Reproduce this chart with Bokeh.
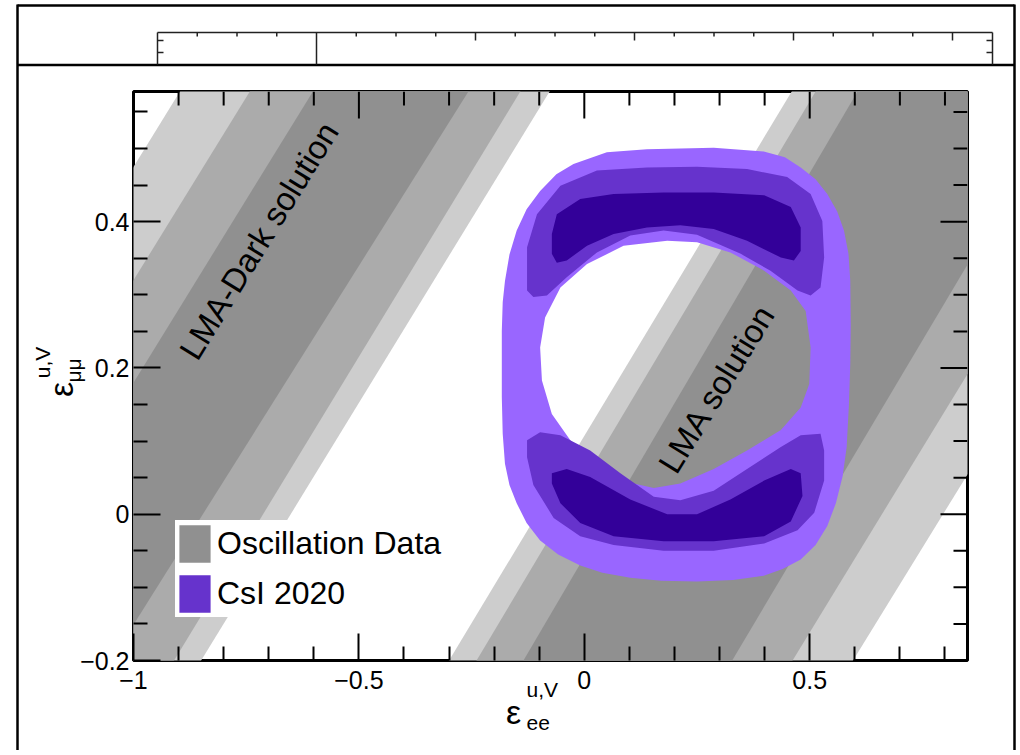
import math
from bokeh.plotting import figure
from bokeh.models import Range1d, FixedTicker, Legend, LegendItem
from bokeh.core.properties import value
from bokeh.embed import file_html
from bokeh.resources import INLINE

# ---------------- values ----------------
x_lim = [-1.0, 0.85]
y_lim = [-0.2, 0.578]
x_major = [-1.0, -0.5, 0.0, 0.5]
x_major_labels = ["\u22121", "\u22120.5", "0", "0.5"]
x_minor = [-0.9, -0.8, -0.7, -0.6, -0.4, -0.3, -0.2, -0.1, 0.1, 0.2, 0.3, 0.4, 0.6, 0.7, 0.8]
y_major = [-0.2, 0.0, 0.2, 0.4]
y_major_labels = ["\u22120.2", "0", "0.2", "0.4"]
y_minor = [-0.15, -0.1, -0.05, 0.05, 0.1, 0.15, 0.25, 0.3, 0.35, 0.45, 0.5, 0.55]

# Oscillation data bands: x of each band boundary at y = band_y[0] and y = band_y[1]
# boundary order: 3s-upper, 2s-upper, 1s-upper, 1s-lower, 2s-lower, 3s-lower
band_y = [-0.2, 0.58]
lma_dark_x_lo = [-1.675, -1.52, -1.38, -1.05, -0.91, -0.85]
lma_dark_x_hi = [-0.895, -0.74, -0.60, -0.255, -0.14, -0.075]
lma_x_lo = [-0.30, -0.239, -0.135, 0.328, 0.462, 0.596]
lma_x_hi = [0.462, 0.515, 0.608, 1.08, 1.235, 1.375]

# CsI 2020 allowed regions (contour outlines)
csi_outer_x = [0.139, 0.287, 0.398, 0.445, 0.480, 0.513, 0.539, 0.561, 0.576, 0.586, 0.590, 0.591,
               0.590, 0.587, 0.582, 0.573, 0.558, 0.539, 0.513, 0.480, 0.440, 0.398, 0.330, 0.250,
               0.170, 0.102, 0.040, -0.009, -0.058, -0.098, -0.128, -0.150, -0.166, -0.176, -0.181,
               -0.183, -0.183, -0.181, -0.176, -0.166, -0.150, -0.128, -0.098, -0.062, -0.024, 0.050]
csi_outer_y = [0.499, 0.501, 0.496, 0.488, 0.474, 0.458, 0.438, 0.414, 0.388, 0.356, 0.319, 0.260,
               0.206, 0.150, 0.092, 0.052, 0.015, -0.016, -0.042, -0.062, -0.075, -0.084, -0.090,
               -0.092, -0.091, -0.087, -0.080, -0.070, -0.055, -0.036, -0.012, 0.015, 0.040, 0.069,
               0.110, 0.160, 0.251, 0.290, 0.319, 0.355, 0.388, 0.417, 0.442, 0.465, 0.479, 0.495]
csi_hole_x = [0.184, 0.250, 0.324, 0.399, 0.458, 0.491, 0.502, 0.499, 0.480, 0.436, 0.361, 0.287,
              0.213, 0.154, 0.095, 0.028, -0.031, -0.072, -0.094, -0.098, -0.087, -0.053, 0.006, 0.087]
csi_hole_y = [0.374, 0.372, 0.358, 0.333, 0.306, 0.278, 0.228, 0.178, 0.146, 0.115, 0.087, 0.062,
              0.042, 0.036, 0.044, 0.070, 0.101, 0.137, 0.183, 0.228, 0.269, 0.310, 0.342, 0.367]
csi_mid_top_x = [-0.127, -0.127, -0.105, -0.053, 0.028, 0.139, 0.250, 0.361, 0.450, 0.502, 0.528, 0.532,
                 0.524, 0.502, 0.473, 0.413, 0.347, 0.250, 0.176, 0.102, 0.028, -0.039, -0.083, -0.113]
csi_mid_top_y = [0.306, 0.365, 0.410, 0.449, 0.470, 0.474, 0.475, 0.472, 0.461, 0.438, 0.401, 0.351,
                 0.310, 0.299, 0.306, 0.333, 0.356, 0.382, 0.388, 0.381, 0.358, 0.324, 0.299, 0.297]
csi_mid_bot_x = [-0.127, -0.098, -0.053, 0.013, 0.080, 0.154, 0.213, 0.287, 0.361, 0.436, 0.480, 0.524,
                 0.532, 0.532, 0.510, 0.473, 0.399, 0.287, 0.176, 0.065, -0.009, -0.068, -0.113, -0.127]
csi_mid_bot_y = [0.101, 0.112, 0.108, 0.087, 0.056, 0.024, 0.019, 0.032, 0.062, 0.092, 0.108, 0.110,
                 0.087, 0.046, 0.002, -0.022, -0.040, -0.050, -0.050, -0.042, -0.030, -0.005, 0.040, 0.078]
csi_in_top_x = [-0.072, -0.061, -0.009, 0.065, 0.176, 0.287, 0.399, 0.458, 0.480, 0.480, 0.465, 0.436,
                0.361, 0.287, 0.213, 0.139, 0.065, 0.006, -0.039, -0.061, -0.072]
csi_in_top_y = [0.383, 0.410, 0.431, 0.438, 0.440, 0.440, 0.436, 0.420, 0.392, 0.360, 0.347, 0.351,
                0.374, 0.390, 0.395, 0.392, 0.383, 0.367, 0.347, 0.344, 0.356]
csi_in_bot_x = [-0.072, -0.039, 0.013, 0.102, 0.184, 0.250, 0.324, 0.399, 0.458, 0.480, 0.484, 0.458,
                0.399, 0.287, 0.176, 0.065, -0.009, -0.053, -0.072]
csi_in_bot_y = [0.056, 0.062, 0.051, 0.020, 0.000, 0.000, 0.020, 0.046, 0.062, 0.056, 0.025, -0.010,
                -0.030, -0.037, -0.037, -0.030, -0.012, 0.015, 0.042]

legend_labels = ["Oscillation Data", "CsI 2020"]
note_texts = ["LMA-Dark solution", "LMA solution"]
note_x = [-0.722, 0.294]
note_y = [0.374, 0.172]

# ---------------- styles / layout ----------------
FONT = "Liberation Sans"
GRAYS = ["#cdcdcd", "#ababab", "#909090"]
PURPLES = ["#9966ff", "#6633cc", "#330099"]

W, H = 1016, 750
FL, FR, FT, FB = 133, 967, 91, 660          # frame edges in page pixels
p = figure(width=W, height=H, output_backend="svg", toolbar_location=None,
           x_range=Range1d(*x_lim), y_range=Range1d(*y_lim),
           min_border_left=FL, min_border_right=W - FR, min_border_top=FT, min_border_bottom=H - FB,
           background_fill_color="white", border_fill_color="white")
p.xgrid.visible = False
p.ygrid.visible = False
p.outline_line_color = "black"
p.outline_line_width = 3

PXS = (FR - FL) / (x_lim[1] - x_lim[0])
PYS = (FB - FT) / (y_lim[1] - y_lim[0])
def dx(px):
    return x_lim[0] + (px - FL) / PXS
def dy(py):
    return y_lim[0] + (FB - py) / PYS

# ---- oscillation bands ----
def band_x_at(y, xlo, xhi):
    return xlo + (xhi - xlo) * (y - band_y[0]) / (band_y[1] - band_y[0])

ya, yb = y_lim[0] - 0.05, y_lim[1] + 0.05
band_renderers = []
for lvl in range(3):
    xs, ys = [], []
    for lo, hi in ((lma_dark_x_lo, lma_dark_x_hi), (lma_x_lo, lma_x_hi)):
        a, b = lvl, 5 - lvl
        xs.append([band_x_at(ya, lo[a], hi[a]), band_x_at(yb, lo[a], hi[a]),
                   band_x_at(yb, lo[b], hi[b]), band_x_at(ya, lo[b], hi[b])])
        ys.append([ya, yb, yb, ya])
    band_renderers.append(p.patches(xs, ys, fill_color=GRAYS[lvl], line_color=None))

# ---- CsI regions ----
p.multi_polygons(xs=[[[csi_outer_x, csi_hole_x]]], ys=[[[csi_outer_y, csi_hole_y]]],
                 fill_color=PURPLES[0], line_color=None)
r_mid = p.patches([csi_mid_top_x, csi_mid_bot_x], [csi_mid_top_y, csi_mid_bot_y],
                  fill_color=PURPLES[1], line_color=None)
p.patches([csi_in_top_x, csi_in_bot_x], [csi_in_top_y, csi_in_bot_y],
          fill_color=PURPLES[2], line_color=None)

# ---- notes inside the plot ----
slope_angle = math.atan(PYS / PXS)
p.text(x=note_x, y=note_y, text=note_texts, angle=slope_angle,
       text_font=value(FONT), text_font_size="33px", text_align="center",
       text_baseline="middle", text_color="black")

# ---- axes: ticks inside ----
for ax, tk, mn, labels, sd in ((p.xaxis[0], x_major, x_minor, x_major_labels, 10),
                               (p.yaxis[0], y_major, y_minor, y_major_labels, 4)):
    ax.ticker = FixedTicker(ticks=tk, minor_ticks=mn)
    ax.major_label_overrides = dict(zip(tk, labels))
    ax.major_tick_in = 27
    ax.major_tick_out = 0
    ax.minor_tick_in = 14
    ax.minor_tick_out = 0
    ax.major_tick_line_width = 2
    ax.minor_tick_line_width = 2
    ax.major_tick_line_color = "black"
    ax.minor_tick_line_color = "black"
    ax.axis_line_color = None
    ax.major_label_text_font = FONT
    ax.major_label_text_font_size = "25px"
    ax.major_label_text_color = "black"
    ax.major_label_standoff = sd

# mirrored ticks on the top and right edges
tick_x0, tick_y0, tick_x1, tick_y1 = [], [], [], []
for v, ln in [(t, 27) for t in x_major] + [(t, 14) for t in x_minor]:
    tick_x0.append(v); tick_x1.append(v)
    tick_y0.append(y_lim[1]); tick_y1.append(y_lim[1] - ln / PYS)
for v, ln in [(t, 27) for t in y_major] + [(t, 14) for t in y_minor]:
    tick_y0.append(v); tick_y1.append(v)
    tick_x0.append(x_lim[1]); tick_x1.append(x_lim[1] - ln / PXS)
p.segment(tick_x0, tick_y0, tick_x1, tick_y1, line_color="black", line_width=2)

# ---- legend ----
legend = Legend(items=[LegendItem(label=legend_labels[0], renderers=[band_renderers[2]]),
                       LegendItem(label=legend_labels[1], renderers=[r_mid])],
                location=(42, 43), orientation="vertical",
                label_text_font=FONT, label_text_font_size="32px", label_text_color="black",
                glyph_width=39, glyph_height=47, spacing=3, label_standoff=3, label_width=244,
                padding=3, margin=0, border_line_color=None,
                background_fill_color="white", background_fill_alpha=1.0)
p.add_layout(legend, "center")

# ---- axis titles (drawn outside the frame) ----
def title_text(px, py, text, size, align, angle):
    p.text(x=[dx(px)], y=[dy(py)], text=[text], angle=angle, text_font=value(FONT),
           text_font_size=size, text_align=align, text_baseline="middle",
           text_color="black", level="overlay")

title_text(513, 711, "\u03b5", "34px", "center", 0.0)
title_text(526, 689, "u,V", "21px", "left", 0.0)
title_text(526, 722, "ee", "21px", "left", 0.0)
title_text(60, 389, "\u03b5", "34px", "center", math.pi / 2)
title_text(73, 370, "\u03bc\u03bc", "21px", "center", math.pi / 2)
title_text(42, 362, "u,V", "21px", "center", math.pi / 2)

# ---- page frames of the original screenshot ----
thick = dict(x0=[], y0=[], x1=[], y1=[])
thin = dict(x0=[], y0=[], x1=[], y1=[])
def seg(d, a, b, c, e):
    d["x0"].append(dx(a)); d["y0"].append(dy(b)); d["x1"].append(dx(c)); d["y1"].append(dy(e))

seg(thick, 17, 5, 1014, 5)
seg(thick, 17, 4, 17, 760)
seg(thick, 1014, 4, 1014, 760)
seg(thick, 17, 64.5, 1014, 64.5)
seg(thin, 157, 32, 992, 32)
seg(thin, 157, 32, 157, 64)
seg(thin, 992, 32, 992, 64)
seg(thin, 316, 32, 316, 64)
for k in range(-3, 17):
    if k == 0:
        continue
    xx = 316 + 39.75 * k
    seg(thin, xx, 32, xx, 32 + (8 if k % 4 == 0 else 4))
for yy in (40, 52):
    seg(thin, 157, yy, 163, yy)
    seg(thin, 986, yy, 992, yy)
p.segment(**thick, line_color="black", line_width=2.5, level="overlay")
p.segment(**thin, line_color="#222222", line_width=1.5, level="overlay")

open("out.html", "w").write(file_html(p, INLINE))
